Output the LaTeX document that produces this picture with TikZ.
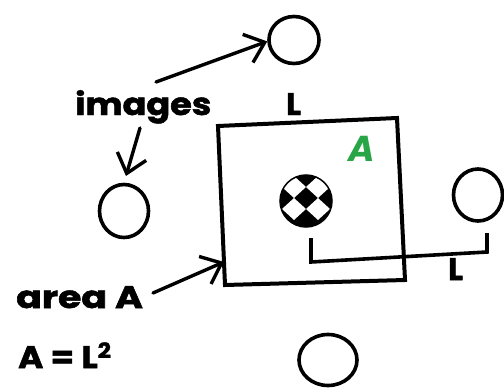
\documentclass[tikz,border=0pt]{standalone}
\usepackage{fontspec}
\usepackage{graphicx}
\usetikzlibrary{arrows.meta,shapes.geometric,calc}
\newfontfamily\labfont{Poppins}[BoldFeatures={FakeBold=1.6}]
\definecolor{penGreen}{RGB}{40,165,70}
\begin{document}
\begin{tikzpicture}[x=1pt,y=-1pt,
  imgc/.style={draw=black,line width=3.6pt,ellipse,inner sep=0pt},
  lab/.style={inner sep=0pt,font=\labfont\bfseries\fontsize{31}{33}\selectfont},
  arr/.style={line width=3.4pt,line cap=round,-{Straight Barb[length=18pt,width=30pt,line width=3.4pt]}},
  frame/.style={line width=4pt,line join=miter}
]
\useasboundingbox (0,0) rectangle (504,388);

% image circles
\node[imgc,minimum width=50pt,minimum height=47pt] (ctop) at (294,40) {};
\node[imgc,minimum width=49pt,minimum height=53pt] (cleft) at (124,211) {};
\node[imgc,minimum width=49pt,minimum height=52pt] (cright) at (478,195) {};
\node[imgc,minimum width=58pt,minimum height=51pt] (cbot) at (328,360) {};

% the cell (area A)
\coordinate (sqTL) at (218,126);
\coordinate (sqTR) at (397,118);
\coordinate (sqBR) at (405,280);
\coordinate (sqBL) at (225,285);
\draw[frame] (sqTL) -- (sqTR) -- (sqBR) -- (sqBL) -- cycle;

% bracket showing L
\coordinate (brA) at (311,238);
\coordinate (brB) at (311,262);
\coordinate (brC) at (487,252);
\coordinate (brD) at (487,233);
\draw[line width=3.6pt,line join=miter] (brA) -- (brB) -- (brC) -- (brD);

% checkered ball
\coordinate (ball) at (306,201);
\begin{scope}
  \clip (ball) circle (26pt);
  \fill[black] (ball) circle (26pt);
  \foreach \dx/\dy in {-12/-14,12/-14,-12/8,12/8,-36/8}{
    \fill[white] ($(ball)+(\dx,\dy)$) ++(0,-11) -- ++(12,11) -- ++(-12,11) -- ++(-12,-11) -- cycle;
  }
\end{scope}
\node[circle,draw=black,line width=1.5pt,minimum size=52pt,inner sep=0pt] (ballc) at (ball) {};

% labels
\node[lab,anchor=base west] (images) at (75,115) {\scalebox{1.13}[1]{images}};
\node[lab,anchor=base west] (Ltop) at (286,115) {L};
\node[lab,anchor=base west] (Lright) at (448,280) {L};
\node[lab,anchor=base west] (areaA) at (16,308) {\scalebox{1.22}[1]{area A}};
\node[lab,anchor=base west] (formula) at (18,368) {\scalebox{1.1}[1]{A = L\raisebox{10pt}{\fontsize{21}{22}\selectfont 2}}};
\node[inner sep=0pt,text=penGreen,font=\labfont\bfseries\itshape\fontsize{36}{38}\selectfont] (greenA) at (362,149) {A};

% arrows
\coordinate (s1) at (156,82);
\coordinate (s2) at (140,128);
\coordinate (s3) at (153,293);
\coordinate (sqHit) at ($(sqTL)!0.855!(sqBL)$);
\draw[arr] (s1) -- (ctop.183);
\draw[arr,shorten >=7pt] (s2) -- (cleft.north);
\draw[arr] (s3) -- (sqHit);
\end{tikzpicture}
\end{document}
